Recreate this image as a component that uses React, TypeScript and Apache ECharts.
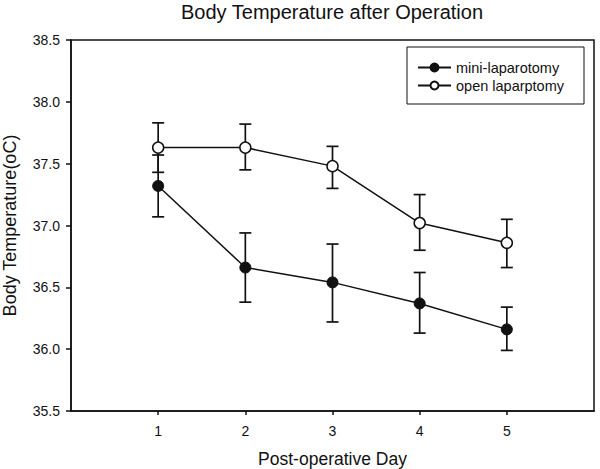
import React, { useEffect, useRef } from "react";
import * as echarts from "echarts";

const days = [1, 2, 3, 4, 5];
const xTickValues = [1, 2, 3, 4, 5];

const miniMean = [37.32, 36.66, 36.54, 36.37, 36.16];
const miniLow = [37.07, 36.38, 36.22, 36.13, 35.99];
const miniHigh = [37.57, 36.94, 36.85, 36.62, 36.34];

const openMean = [37.63, 37.63, 37.48, 37.02, 36.86];
const openLow = [37.43, 37.45, 37.3, 36.8, 36.66];
const openHigh = [37.83, 37.82, 37.64, 37.25, 37.05];

const FONT = "'Liberation Sans', Arial, sans-serif";

function errorSeries(name: string, low: number[], high: number[]) {
  return {
    type: "custom",
    name: name + "-err",
    z: 1,
    silent: true,
    data: days.map((d, i) => [d, low[i], high[i]]),
    renderItem: (params: any, api: any) => {
      const x = api.value(0);
      const lo = api.coord([x, api.value(1)]);
      const hi = api.coord([x, api.value(2)]);
      const w = 6;
      const style = { stroke: "#111", lineWidth: 1.7, fill: "none" };
      return {
        type: "group",
        children: [
          { type: "line", shape: { x1: lo[0], y1: lo[1], x2: hi[0], y2: hi[1] }, style },
          { type: "line", shape: { x1: lo[0] - w, y1: lo[1], x2: lo[0] + w, y2: lo[1] }, style },
          { type: "line", shape: { x1: hi[0] - w, y1: hi[1], x2: hi[0] + w, y2: hi[1] }, style },
        ],
      };
    },
  };
}

export default function App() {
  const ref = useRef<HTMLDivElement>(null);
  useEffect(() => {
    if (!ref.current) return;
    const chart = echarts.init(ref.current, undefined, { renderer: "svg" });
    chart.setOption({
      animation: false,
      backgroundColor: "#fff",
      textStyle: { fontFamily: FONT, color: "#111" },
      title: {
        text: "Body Temperature after Operation",
        left: 332,
        textAlign: "center",
        top: 2,
        padding: 0,
        textStyle: { fontFamily: FONT, fontSize: 20, fontWeight: "normal", color: "#111" },
      },
      legend: {
        orient: "vertical",
        left: 407,
        top: 47,
        padding: [13, 20, 11, 10],
        itemWidth: 33,
        itemHeight: 10,
        itemGap: 3,
        borderColor: "#111",
        borderWidth: 1,
        data: ["mini-laparotomy", "open laparptomy"],
        textStyle: { fontFamily: FONT, fontSize: 14.5, color: "#111" },
      },
      grid: {
        left: 71,
        right: 6,
        top: 40,
        bottom: 58,
        containLabel: false,
        outerBoundsMode: "none",
        show: true,
        borderColor: "#111",
        borderWidth: 1.5,
        backgroundColor: "transparent",
      },
      xAxis: {
        type: "value",
        min: 0,
        max: 6,
        interval: 1,
        name: "Post-operative Day",
        nameLocation: "middle",
        nameGap: 39,
        nameTextStyle: { fontFamily: FONT, fontSize: 17.5, color: "#111" },
        splitLine: { show: false },
        axisLine: { lineStyle: { color: "#111", width: 1.5 } },
        axisTick: { show: true, length: 4, customValues: xTickValues, lineStyle: { color: "#111", width: 1.5 } },
        axisLabel: {
          margin: 13,
          fontSize: 14,
          color: "#111",
          fontFamily: FONT,
          showMinLabel: false,
          showMaxLabel: false,
          formatter: (v: number) => (xTickValues.indexOf(v) >= 0 ? String(v) : ""),
        },
      },
      yAxis: {
        type: "value",
        min: 35.5,
        max: 38.5,
        interval: 0.5,
        name: "Body Temperature(oC)",
        nameLocation: "middle",
        nameGap: 52,
        nameTextStyle: { fontFamily: FONT, fontSize: 18, color: "#111" },
        splitLine: { show: false },
        axisLine: { lineStyle: { color: "#111", width: 1.5 } },
        axisTick: { show: true, length: 5, lineStyle: { color: "#111", width: 1.5 } },
        axisLabel: {
          margin: 11,
          fontSize: 14,
          color: "#111",
          fontFamily: FONT,
          formatter: (v: number) => v.toFixed(1),
        },
      },
      series: [
        errorSeries("mini", miniLow, miniHigh),
        errorSeries("open", openLow, openHigh),
        {
          type: "line",
          name: "mini-laparotomy",
          z: 3,
          data: days.map((d, i) => [d, miniMean[i]]),
          symbol: "circle",
          symbolSize: 11,
          lineStyle: { color: "#111", width: 1.5 },
          itemStyle: { color: "#111", borderColor: "#111", borderWidth: 1 },
        },
        {
          type: "line",
          name: "open laparptomy",
          z: 3,
          data: days.map((d, i) => [d, openMean[i]]),
          symbol: "circle",
          symbolSize: 11,
          lineStyle: { color: "#111", width: 1.5 },
          itemStyle: { color: "#fff", borderColor: "#111", borderWidth: 1.5 },
        },
      ],
    });
    return () => chart.dispose();
  }, []);
  return (
    <div
      ref={ref}
      style={{ position: "fixed", left: 0, top: 0, width: 600, height: 469, background: "#fff" }}
    />
  );
}
